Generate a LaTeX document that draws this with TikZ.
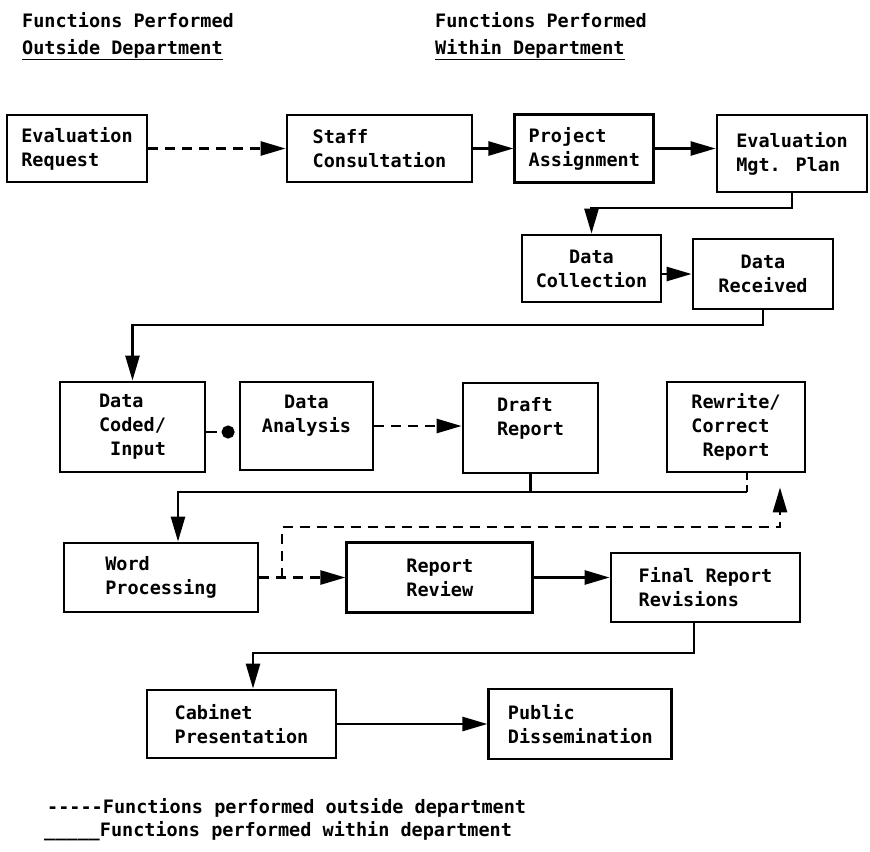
\documentclass[tikz,border=0pt]{standalone}
\usepackage{fontspec}
\newfontfamily\printfont{DejaVu Sans Mono}
\usetikzlibrary{positioning, arrows.meta}
\tikzset{
  title/.style={
      font=\printfont\bfseries\fontsize{18.5bp}{24bp}\selectfont,
      anchor=base west,
      inner sep=0pt
    },
  proc/.style={
      rectangle,
      draw,
      line width=2.8bp,
      font=\printfont\bfseries\fontsize{18.5bp}{24bp}\selectfont,
      align=left,
      inner sep=0pt
    },
  arr/.style={
      -{Triangle[length=25bp,width=14bp]},
      line width=2.6bp
    },
  darr/.style={
      arr,
      dash pattern=on 10bp off 7bp
    },
  link/.style={
      line width=2.6bp
    }
}

\begin{document}
\begin{tikzpicture}[x=1bp, y=-1bp]
  \useasboundingbox (0,0) rectangle (870,852);
  % headings
  \node[title] (hout1) at (22,27) {Functions Performed};
  \node[title] (hout2) at (22,54) {\underline{Outside Department}};
  \node[title] (hin1) at (435,27) {Functions Performed};
  \node[title] (hin2) at (435,54) {\underline{Within Department}};
  % row 1
  \node[proc, minimum width=140bp, minimum height=67bp] (ereq) at (77,148.5) {Evaluation\\Request};
  \node[proc, minimum width=185bp, minimum height=67bp] (staff) at (379.5,148.5) {Staff\\Consultation};
  \node[proc, minimum width=139bp, minimum height=68bp, right=40bp of staff] (proj) {Project\\Assignment};
  \node[proc, minimum width=150bp, minimum height=77bp] (emp) at (792,153.5) {Evaluation\\Mgt. Plan};
  \draw[darr] (ereq) -- (staff);
  \draw[arr] (staff) -- (proj);
  \draw[arr] (proj.east) -- (proj.east -| emp.west);
  % row 2
  \node[proc, minimum width=139bp, minimum height=67bp, align=center] (dcol) at (591.5,268.5) {Data\\Collection};
  \node[proc, minimum width=140bp, minimum height=70bp, align=center] (drec) at (763,274) {Data\\Received};
  \coordinate (k1) at (792,208);
  \draw[arr] (emp.south) -- (k1) -| (dcol.north);
  \draw[arr] (dcol.east |- drec.west) -- (drec.west);
  % row 3
  \node[proc, minimum width=145bp, minimum height=90bp] (dcod) at (132.5,427) {Data\\Coded/\\\ Input};
  \node[proc, minimum width=133bp, minimum height=88bp, align=center] (dana) at (306.5,426) {Data\\Analysis\\~};
  \node[proc, minimum width=135bp, minimum height=90bp] (draft) at (530.5,428) {Draft\\Report\\~};
  \node[proc, minimum width=138bp, minimum height=90bp] (rew) at (736,427) {Rewrite/\\Correct\\\ Report};
  \coordinate (k2) at (763,325);
  \draw[arr] (drec.south) -- (k2) -| (dcod.north);
  \draw[link, -{Circle[length=13bp]}, dash pattern=on 11bp off 6bp, shorten >=4bp] (dcod.east |- 0,432) -- (dana.west |- 0,432);
  \draw[darr] (dana.east) -- (dana.east -| draft.west);
  % row 4
  \node[proc, minimum width=194bp, minimum height=69bp] (wp) at (161,577.5) {Word\\Processing};
  \node[proc, minimum width=186bp, minimum height=70bp, right=86bp of wp] (rrev) {Report\\Review};
  \node[proc, minimum width=189bp, minimum height=69bp] (frev) at (705.5,587.5) {Final Report\\Revisions};
  \coordinate (k3) at (747,492);
  \coordinate (k4) at (178,492);
  \draw[link, dash pattern=on 7bp off 5bp] (rew.south -| k3) -- (k3);
  \draw[link] (draft.south) -- (draft.south |- k3);
  \draw[arr] (k3) -- (k4) -- (wp.north -| k4);
  \coordinate (k5) at (282,527);
  \coordinate (k6) at (780,527);
  \draw[darr] (wp) -- (rrev);
  \draw[darr, shorten >=14bp] (k5 |- wp.east) -- (k5) -- (k6) -- (rew.south -| k6);
  \draw[arr] (rrev.east) -- (rrev.east -| frev.west);
  % row 5
  \node[proc, minimum width=189bp, minimum height=68bp] (cab) at (241.5,724) {Cabinet\\Presentation};
  \node[proc, minimum width=183bp, minimum height=70bp, right=150bp of cab] (pub) {Public\\Dissemination};
  \coordinate (k7) at (694,653);
  \coordinate (k8) at (253,653);
  \draw[arr] (frev.south -| k7) -- (k7) -- (k8) -- (cab.north -| k8);
  \draw[arr] (cab) -- (pub);
  % legend
  \node[title] (lg1) at (47,813) {-{}-{}-{}-{}-Functions performed outside department};
  \node[title] (lg2) at (44,836) {\_\_\_\_\_Functions performed within department};
\end{tikzpicture}
\end{document}
